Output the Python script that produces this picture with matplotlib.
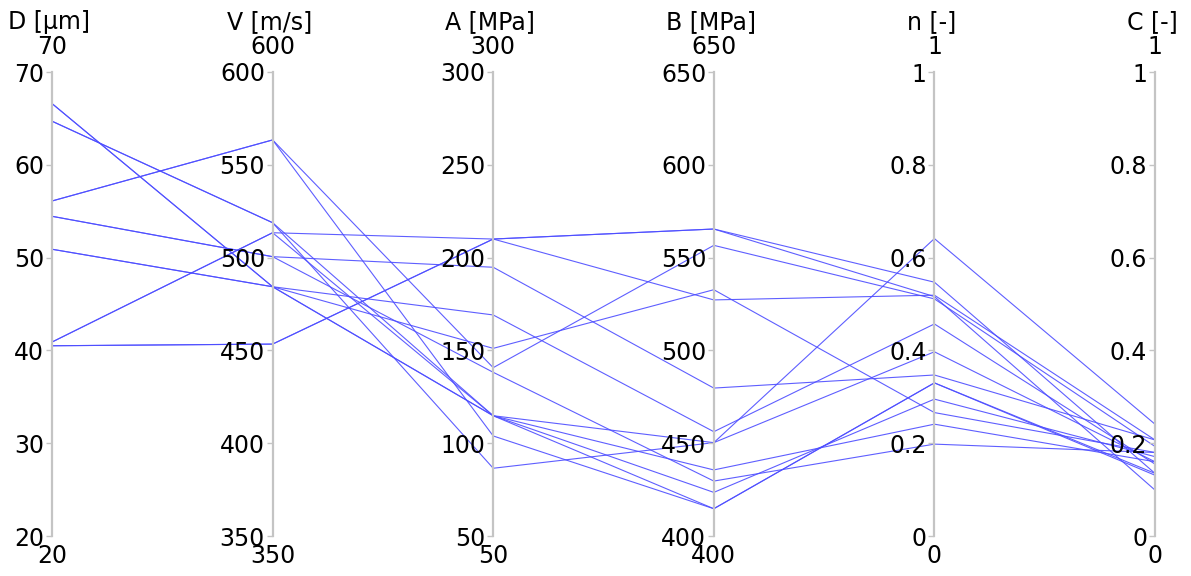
import matplotlib
matplotlib.use("Agg")
import matplotlib.pyplot as plt
import numpy as np

# ---- data ----
dims = ["D [µm]", "V [m/s]", "A [MPa]", "B [MPa]", "n [-]", "C [-]"]
ranges = [(20, 70), (350, 600), (50, 300), (400, 650), (0, 1), (0, 1)]
tick_vals = [
    [20, 30, 40, 50, 60, 70],
    [350, 400, 450, 500, 550, 600],
    [50, 100, 150, 200, 250, 300],
    [400, 450, 500, 550, 600, 650],
    [0, 0.2, 0.4, 0.6, 0.8, 1],
    [0, 0.2, 0.4, 0.6, 0.8, 1],
]
tick_text = [
    ["20", "30", "40", "50", "60", "70"],
    ["350", "400", "450", "500", "550", "600"],
    ["50", "100", "150", "200", "250", "300"],
    ["400", "450", "500", "550", "600", "650"],
    ["0", "0.2", "0.4", "0.6", "0.8", "1"],
    ["0", "0.2", "0.4", "0.6", "0.8", "1"],
]

D = [56.1, 56.1, 64.7, 64.7, 40.9, 40.9, 54.45, 54.45, 66.6, 66.6, 50.9, 50.9, 40.5, 40.5]
V = [563.4, 563.4, 518.8, 518.8, 513.4, 513.4, 500.5, 500.5, 484.3, 484.3, 484.3, 484.3, 453.4, 453.4]
A = [140.7, 103.9, 114.8, 86.5, 210.0, 114.8, 194.8, 138.2, 169.1, 151.1, 114.8, 114.8, 210.0, 210.0]
B = [556.6, 414.7, 414.7, 450.3, 527.2, 423.5, 479.7, 429.6, 456.2, 532.7, 435.6, 450.3, 565.4, 565.4]
n = [0.511, 0.330, 0.330, 0.641, 0.519, 0.295, 0.347, 0.198, 0.457, 0.266, 0.241, 0.397, 0.547, 0.516]
C = [0.193, 0.131, 0.135, 0.241, 0.207, 0.171, 0.207, 0.180, 0.155, 0.180, 0.160, 0.160, 0.135, 0.099]

columns = [D, V, A, B, n, C]

# ---- figure ----
W, H = 1191, 576
plt.rcParams['font.family'] = ['DejaVu Sans']
fig = plt.figure(figsize=(W / 100, H / 100), dpi=100)

left_px, right_px = 52, 1155
top_px, bot_px = 72, 536
x0 = left_px / W
wid = (right_px - left_px) / W
y0 = (H - bot_px) / H
hei = (bot_px - top_px) / H

main = fig.add_axes([x0, y0, wid, hei])
main.set_xlim(0, len(dims) - 1)
main.set_ylim(0, 1)
main.axis("off")

data = np.array(columns, dtype=float)  # shape (ndims, nrows)
norm = np.array([(data[i] - r[0]) / (r[1] - r[0]) for i, r in enumerate(ranges)])
xs = np.arange(len(dims))
for j in range(norm.shape[1]):
    main.plot(xs, norm[:, j], color=(0.3, 0.3, 1.0), lw=0.8, alpha=0.9,
              solid_joinstyle="miter")

fs = 17
axis_color = "#c4c4c4"
for i, name in enumerate(dims):
    xp = (left_px + i * (right_px - left_px) / (len(dims) - 1)) / W
    ax = fig.add_axes([xp, y0, 0.0005, hei])
    ax.patch.set_visible(False)
    for s in ["top", "right", "bottom"]:
        ax.spines[s].set_visible(False)
    ax.spines["left"].set_color(axis_color)
    ax.spines["left"].set_linewidth(1.6)
    ax.set_ylim(*ranges[i])
    ax.set_xticks([])
    ax.set_yticks(tick_vals[i])
    ax.set_yticklabels(tick_text[i])
    ax.tick_params(axis="y", direction="out", length=4, width=1, color=axis_color,
                   labelsize=fs, labelcolor="black", pad=1.5)
    ax.annotate(str(tick_text[i][-1]), xy=(0, 1), xycoords="axes fraction",
                xytext=(0, 18), textcoords="offset points",
                ha="center", va="center", fontsize=fs)
    ax.annotate(str(tick_text[i][0]), xy=(0, 0), xycoords="axes fraction",
                xytext=(0, -14.5), textcoords="offset points",
                ha="center", va="center", fontsize=fs)
    ax.annotate(name, xy=(0, 1), xycoords="axes fraction",
                xytext=(-2, 36), textcoords="offset points",
                ha="center", va="center", fontsize=fs)

fig.savefig("out.png", dpi=100)
